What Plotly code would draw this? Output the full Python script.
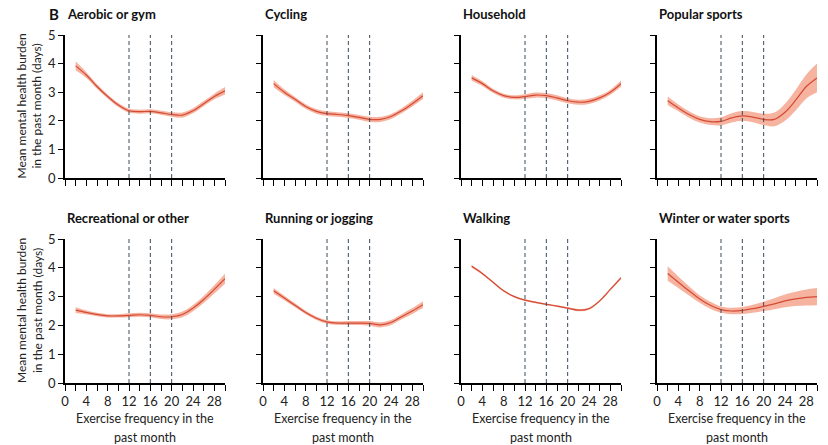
import plotly.graph_objects as go

W, H = 828, 445

FREQ = [2, 4, 6, 8, 10, 12, 14, 16, 18, 20, 22, 24, 26, 28, 30]
CUTOFFS = [12, 16, 20]
TITLES = ["Aerobic or gym", "Cycling", "Household", "Popular sports",
          "Recreational or other", "Running or jogging", "Walking", "Winter or water sports"]

aerobic = [3.92, 3.60, 3.20, 2.85, 2.55, 2.35, 2.32, 2.33, 2.28, 2.22, 2.20, 2.35, 2.60, 2.85, 3.05]
aerobic_ci = [0.15, 0.10, 0.08, 0.07, 0.07, 0.07, 0.07, 0.07, 0.07, 0.08, 0.09, 0.09, 0.09, 0.10, 0.13]
cycling = [3.30, 3.00, 2.75, 2.50, 2.33, 2.25, 2.22, 2.18, 2.12, 2.05, 2.05, 2.15, 2.35, 2.60, 2.88]
cycling_ci = [0.13, 0.10, 0.08, 0.08, 0.08, 0.08, 0.08, 0.08, 0.08, 0.09, 0.09, 0.09, 0.09, 0.10, 0.12]
household = [3.50, 3.30, 3.05, 2.88, 2.82, 2.85, 2.90, 2.88, 2.80, 2.70, 2.65, 2.68, 2.80, 3.00, 3.30]
household_ci = [0.10, 0.08, 0.07, 0.07, 0.07, 0.08, 0.09, 0.09, 0.09, 0.09, 0.09, 0.09, 0.09, 0.09, 0.11]
popular = [2.70, 2.45, 2.22, 2.05, 1.97, 1.98, 2.10, 2.17, 2.13, 2.05, 2.05, 2.30, 2.72, 3.20, 3.50]
popular_ci = [0.15, 0.12, 0.11, 0.11, 0.12, 0.14, 0.16, 0.17, 0.18, 0.20, 0.24, 0.30, 0.36, 0.42, 0.50]
recreational = [2.53, 2.45, 2.38, 2.33, 2.33, 2.35, 2.37, 2.35, 2.30, 2.30, 2.38, 2.60, 2.90, 3.25, 3.62]
recreational_ci = [0.10, 0.07, 0.06, 0.06, 0.06, 0.07, 0.07, 0.07, 0.08, 0.09, 0.10, 0.11, 0.12, 0.14, 0.17]
running = [3.20, 2.95, 2.70, 2.45, 2.25, 2.12, 2.08, 2.08, 2.08, 2.07, 2.02, 2.10, 2.30, 2.50, 2.72]
running_ci = [0.10, 0.08, 0.07, 0.06, 0.06, 0.06, 0.06, 0.07, 0.07, 0.08, 0.09, 0.09, 0.09, 0.10, 0.12]
walking = [4.05, 3.80, 3.50, 3.20, 3.00, 2.88, 2.80, 2.73, 2.67, 2.60, 2.53, 2.58, 2.85, 3.25, 3.65]
walking_ci = [0.05, 0.04, 0.03, 0.03, 0.03, 0.03, 0.03, 0.03, 0.03, 0.03, 0.04, 0.04, 0.04, 0.04, 0.05]
winter = [3.80, 3.50, 3.20, 2.92, 2.70, 2.55, 2.50, 2.52, 2.58, 2.66, 2.75, 2.85, 2.92, 2.97, 3.00]
winter_ci = [0.25, 0.20, 0.16, 0.13, 0.12, 0.11, 0.11, 0.12, 0.14, 0.16, 0.19, 0.22, 0.25, 0.28, 0.30]

SERIES = [(aerobic, aerobic_ci), (cycling, cycling_ci), (household, household_ci), (popular, popular_ci),
          (recreational, recreational_ci), (running, running_ci), (walking, walking_ci), (winter, winter_ci)]

LINE = "#d44a35"
BAND = "rgba(240,128,95,0.6)"
FONT = "Lato"
TXT = "#222222"

# panel geometry in pixels
LEFTS = [65, 263, 461, 657]
PW = 160
ROWS = [(35, 178), (239, 383)]  # (top, bottom) pixels

fig = go.Figure()
shapes = []
annotations = []

for i, (vals, ci) in enumerate(SERIES):
    r, c = divmod(i, 4)
    n = i + 1
    xa = "x" if n == 1 else f"x{n}"
    ya = "y" if n == 1 else f"y{n}"
    upper = [v + e for v, e in zip(vals, ci)]
    lower = [v - e for v, e in zip(vals, ci)]
    fig.add_trace(go.Scatter(x=FREQ, y=upper, mode="lines", line=dict(width=0, shape="spline"),
                             hoverinfo="skip", showlegend=False, xaxis=xa, yaxis=ya))
    fig.add_trace(go.Scatter(x=FREQ, y=lower, mode="lines", line=dict(width=0, shape="spline"),
                             fill="tonexty", fillcolor=BAND, hoverinfo="skip", showlegend=False,
                             xaxis=xa, yaxis=ya))
    fig.add_trace(go.Scatter(x=FREQ, y=vals, mode="lines", line=dict(color=LINE, width=1.2, shape="spline"),
                             showlegend=False, xaxis=xa, yaxis=ya))

    top, bot = ROWS[r]
    left = LEFTS[c]
    xdom = [left / W, (left + PW) / W]
    ydom = [1 - bot / H, 1 - top / H]
    tickvals = list(range(0, 31, 2))
    ticktext = [str(v) if v % 4 == 0 and v <= 28 else "" for v in tickvals]
    fig.update_layout(**{
        ("xaxis" if n == 1 else f"xaxis{n}"): dict(
            domain=xdom, range=[0, 30], anchor=ya, tickvals=tickvals, ticktext=ticktext,
            showticklabels=(r == 1), ticks="outside", ticklen=6, tickwidth=1.2, tickcolor="black",
            showline=True, linecolor="black", linewidth=1.5, showgrid=False, zeroline=False,
            automargin=False, tickfont=dict(family=FONT, size=13, color=TXT)),
        ("yaxis" if n == 1 else f"yaxis{n}"): dict(
            domain=ydom, range=[0, 5], anchor=xa, tickvals=[0, 1, 2, 3, 4, 5],
            showticklabels=(c == 0), ticks="outside", ticklen=5, tickwidth=1.2, tickcolor="black",
            showline=True, linecolor="black", linewidth=1.5, showgrid=False, zeroline=False,
            automargin=False, tickfont=dict(family=FONT, size=13, color=TXT)),
    })
    for cx in CUTOFFS:
        shapes.append(dict(type="line", xref=xa, yref=ya, x0=cx, x1=cx, y0=0, y1=5,
                           line=dict(color="#3a4a5a", width=1, dash="4px,3px")))
    # panel title
    annotations.append(dict(text=f"<b>{TITLES[i]}</b>", xref="paper", yref="paper",
                            x=left / W, y=1 - (top - 21) / H, xanchor="left", yanchor="middle",
                            showarrow=False, font=dict(family=FONT, size=13, color="#111")))
    if c == 0:
        annotations.append(dict(text="Mean mental health burden<br>in the past month (days)",
                                xref="paper", yref="paper", x=29 / W, y=1 - (top + bot) / 2 / H,
                                xanchor="center", yanchor="middle", textangle=-90, showarrow=False,
                                font=dict(family=FONT, size=12, color=TXT)))
    if r == 1:
        for line_txt, py in (("Exercise frequency in the", 418), ("past month", 437)):
            annotations.append(dict(text=line_txt, xref="paper", yref="paper",
                                    x=(left + PW / 2) / W, y=1 - py / H,
                                    xanchor="center", yanchor="middle", showarrow=False,
                                    font=dict(family=FONT, size=12.5, color=TXT)))

annotations.append(dict(text="<b>B</b>", xref="paper", yref="paper", x=47 / W, y=1 - 14 / H,
                        xanchor="left", yanchor="middle", showarrow=False,
                        font=dict(family=FONT, size=15, color="#111")))

fig.update_layout(width=W, height=H, margin=dict(l=0, r=0, t=0, b=0, pad=0, autoexpand=False),
                  paper_bgcolor="white", plot_bgcolor="white",
                  shapes=shapes, annotations=annotations, showlegend=False)

fig.write_html("out.html", config={"displayModeBar": False},
               post_script="document.body.style.margin='0';document.body.style.overflow='hidden';")
